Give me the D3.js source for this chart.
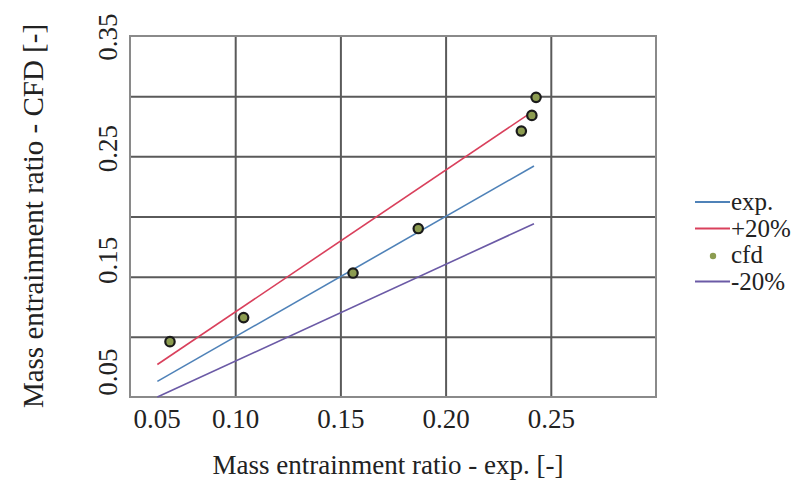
<!DOCTYPE html>
<html>
<head>
<meta charset="utf-8">
<script src="https://cdn.jsdelivr.net/npm/d3@7"></script>
<style>
  html, body { margin:0; padding:0; background:#fff; }
</style>
</head>
<body>
<svg id="chart" width="810" height="486"></svg>
<script>
// values
var cfdX = [0.069, 0.104, 0.156, 0.187, 0.236, 0.241, 0.243];
var cfdY = [0.096, 0.116, 0.153, 0.190, 0.271, 0.284, 0.299];
var lineX = [0.063, 0.242];
var expY = [0.063, 0.242];
var plusY = [0.077, 0.288];
var minusY = [0.050, 0.194];
var xTicks = [0.05, 0.10, 0.15, 0.20, 0.25];
var yTicks = [0.05, 0.15, 0.25, 0.35];
var xGrid = [0.10, 0.15, 0.20, 0.25];
var yGrid = [0.10, 0.15, 0.20, 0.25, 0.30];
var legendNames = ['exp.', '+20%', 'cfd', '-20%'];

(function(){
  var svg = d3.select('#chart');
  var serif = '"Liberation Serif","Times New Roman",Tinos,"Noto Serif","DejaVu Serif",FreeSerif,Times,serif';
  var left = 130, right = 656, top = 36, bottom = 397;

  var x = d3.scaleLinear().domain([0.05, 0.30]).range([left, right]);
  var y = d3.scaleLinear().domain([0.05, 0.35]).range([bottom, top]);
  // the y labels in the picture sit on a slightly tighter spacing than the grid
  var yLab = d3.scaleLinear().domain([0.05, 0.35]).range([372, 37]);

  var colors = { 'exp.':'#4f82b8', '+20%':'#d9405c', 'cfd':'#8c9c50', '-20%':'#6b5aa6' };

  // grid
  svg.append('g')
    .attr('transform', 'translate(0,' + bottom + ')')
    .call(d3.axisBottom(x).tickValues(xGrid).tickSize(-(bottom - top)).tickFormat(''))
    .call(function(g){
      g.select('.domain').remove();
      g.selectAll('line').attr('stroke', '#5a5a5a').attr('stroke-width', 2);
    });
  svg.append('g')
    .attr('transform', 'translate(' + left + ',0)')
    .call(d3.axisLeft(y).tickValues(yGrid).tickSize(-(right - left)).tickFormat(''))
    .call(function(g){
      g.select('.domain').remove();
      g.selectAll('line').attr('stroke', '#5a5a5a').attr('stroke-width', 2);
    });

  svg.append('rect')
    .attr('x', left).attr('y', top)
    .attr('width', right - left).attr('height', bottom - top)
    .attr('fill', 'none').attr('stroke', '#8a8a8a').attr('stroke-width', 2);

  // x tick labels
  var xa = svg.append('g')
    .attr('transform', 'translate(0,' + bottom + ')')
    .call(d3.axisBottom(x).tickValues(xTicks).tickSize(0).tickPadding(31).tickFormat(d3.format('.2f')))
    .attr('font-family', serif);
  xa.select('.domain').remove();
  xa.selectAll('text')
    .style('font-family', serif)
    .attr('font-size', 27).attr('fill', '#222')
    .attr('dy', 0)
    .attr('text-anchor', function(d){ return d === 0.05 ? 'start' : 'middle'; })
    .attr('x', function(d){ return d === 0.05 ? 3 : 0; });

  // y tick labels (rotated)
  svg.append('g').selectAll('text')
    .data(yTicks)
    .enter().append('text')
    .attr('transform', function(d){ return 'translate(117,' + yLab(d) + ') rotate(-90)'; })
    .attr('text-anchor', 'middle')
    .style('font-family', serif)
    .attr('font-size', 27).attr('fill', '#222')
    .text(d3.format('.2f'));

  // axis titles
  svg.append('text')
    .attr('x', (left + right) / 2 - 5).attr('y', 474)
    .attr('text-anchor', 'middle')
    .style('font-family', serif)
    .attr('font-size', 27).attr('fill', '#222')
    .text('Mass entrainment ratio - exp. [-]');
  svg.append('text')
    .attr('transform', 'translate(43,216) rotate(-90)')
    .attr('text-anchor', 'middle')
    .style('font-family', serif)
    .attr('font-size', 29).attr('fill', '#222')
    .text('Mass entrainment ratio - CFD [-]');

  // lines
  var lines = [
    { name:'exp.', vals:expY },
    { name:'+20%', vals:plusY },
    { name:'-20%', vals:minusY }
  ];
  var lineGen = d3.line()
    .x(function(d){ return x(d[0]); })
    .y(function(d){ return y(d[1]); });
  svg.append('g').selectAll('path')
    .data(lines)
    .enter().append('path')
    .attr('d', function(s){ return lineGen(lineX.map(function(v, i){ return [v, s.vals[i]]; })); })
    .attr('fill', 'none')
    .attr('stroke', function(s){ return colors[s.name]; })
    .attr('stroke-width', 1.6);

  // cfd points
  svg.append('g').selectAll('circle')
    .data(cfdX.map(function(v, i){ return [v, cfdY[i]]; }))
    .enter().append('circle')
    .attr('cx', function(d){ return x(d[0]); })
    .attr('cy', function(d){ return y(d[1]); })
    .attr('r', 4.7)
    .attr('fill', colors['cfd'])
    .attr('stroke', '#1a1a1a')
    .attr('stroke-width', 2.2);

  // legend
  var leg = svg.append('g').attr('transform', 'translate(695,202)');
  var row = leg.selectAll('g')
    .data(legendNames)
    .enter().append('g')
    .attr('transform', function(d, i){ return 'translate(0,' + (i * 26.5) + ')'; });
  row.each(function(d){
    var g = d3.select(this);
    if (d === 'cfd') {
      g.append('circle').attr('cx', 18).attr('cy', 1).attr('r', 3.2).attr('fill', colors[d]);
    } else {
      g.append('line').attr('x1', 0).attr('x2', 35).attr('y1', 0).attr('y2', 0)
        .attr('stroke', colors[d]).attr('stroke-width', 1.8);
    }
  });
  row.append('text')
    .attr('x', 36).attr('y', 8)
    .style('font-family', serif)
    .attr('font-size', 25).attr('fill', '#222')
    .text(function(d){ return d; });
})();
</script>
</body>
</html>
